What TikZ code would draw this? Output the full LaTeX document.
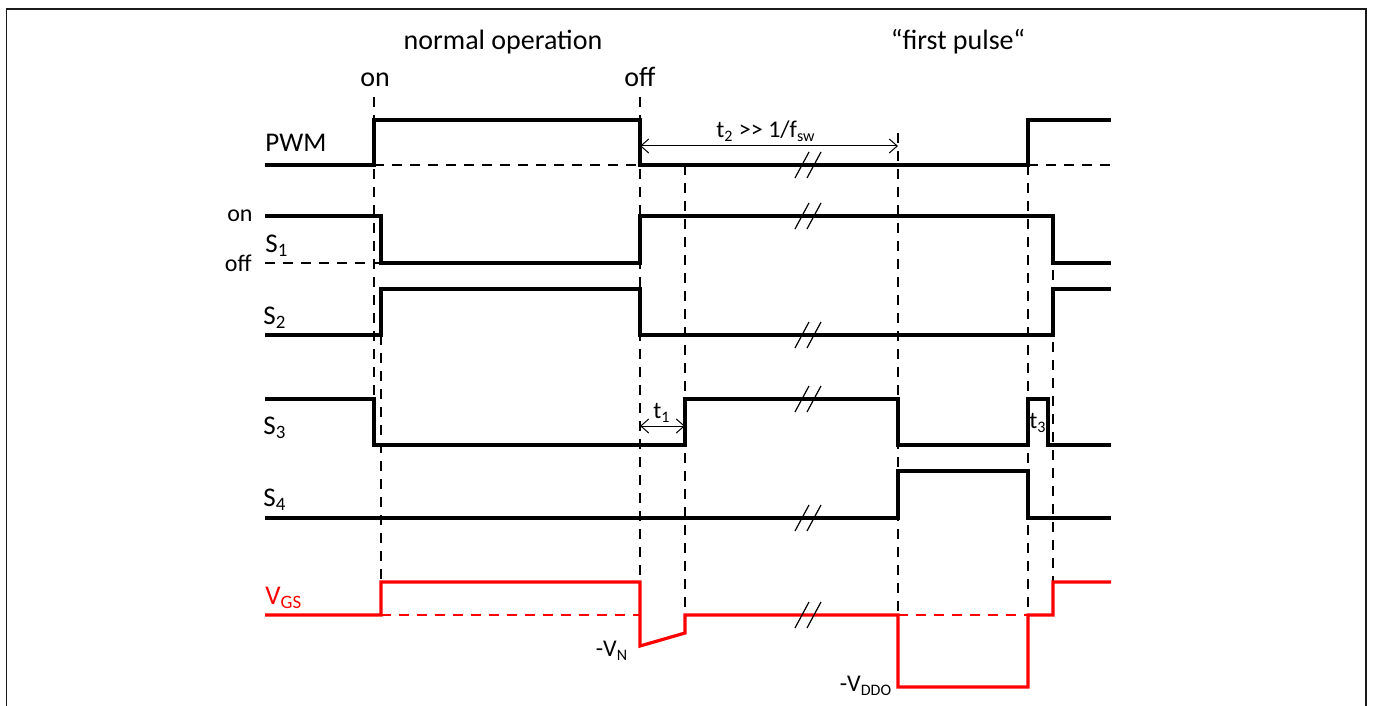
\documentclass[tikz,border=0pt]{standalone}
\usepackage{fontspec}
\setmainfont{Carlito}
\usepackage{tikz}
\usetikzlibrary{arrows.meta}
\definecolor{GateRed}{HTML}{FF0000}
\definecolor{FrameGray}{HTML}{1A1A1A}

\begin{document}
\begin{tikzpicture}[x=0.5pt, y=-0.5pt, >={Straight Barb[length=4pt,width=7pt]},
    sig/.style={line width=1.6pt, line join=miter},
    guide/.style={line width=0.75pt, dash pattern=on 5pt off 4pt},
    brkmark/.style={line width=0.6pt},
    dimline/.style={line width=0.5pt, <->},
    title/.style={font=\fontsize{14}{16}\selectfont, inner sep=0pt},
    lbl/.style={font=\fontsize{13.5}{15}\selectfont, inner sep=0pt},
    small/.style={font=\fontsize{12}{14}\selectfont, inner sep=0pt}]
    \useasboundingbox (0,0) rectangle (1373,706);

    % Frame (open at the bottom)
    \draw[FrameGray, line width=0.75pt] (6.5,706) -- (6.5,9) -- (1366,9) -- (1366,706);

    % Titles
    \node[title] (tnormal) at (503,42) {normal operation};
    \node[title] (tfirst) at (958,42) {“first pulse“};
    \node[title] (ton) at (375,80) {on};
    \node[title] (toff) at (640,77) {off};

    % Signal names
    \node[lbl, anchor=west] (lpwm) at (265,143) {PWM};
    \node[small, anchor=east] (lon) at (253,216) {on};
    \node[small, anchor=east] (loff) at (252,263) {off};
    \node[lbl, anchor=west] (ls1) at (265,246) {S\textsubscript{1}};
    \node[lbl, anchor=west] (ls2) at (263,318) {S\textsubscript{2}};
    \node[lbl, anchor=west] (ls3) at (263,428) {S\textsubscript{3}};
    \node[lbl, anchor=west] (ls4) at (263,500) {S\textsubscript{4}};
    \node[lbl, anchor=west, GateRed] (lvgs) at (265,598) {V\textsubscript{GS}};

    % Dashed guide lines
    \draw[guide] (374,97) -- (374,445);
    \draw[guide] (381,335) -- (381,582);
    \draw[guide] (640,97) -- (640,582);
    \draw[guide] (685,165) -- (685,615);
    \draw[guide] (898,133) -- (898,615);
    \draw[guide] (1028,165) -- (1028,615);
    \draw[guide] (1053,216) -- (1053,582);
    \draw[guide] (374,165) -- (640,165);
    \draw[guide] (1028,165) -- (1111,165);
    \draw[guide] (265,263) -- (381,263);
    \draw[guide, GateRed] (381,615) -- (640,615);
    \draw[guide, GateRed] (898,615) -- (1028,615);

    % PWM
    \draw[sig] (265,165) -- (374,165) -- (374,120) -- (640,120) -- (640,165)
        -- (1028,165) -- (1028,120) -- (1111,120);
    % S1
    \draw[sig] (265,216) -- (381,216) -- (381,263) -- (640,263) -- (640,216)
        -- (1053,216) -- (1053,263) -- (1111,263);
    % S2
    \draw[sig] (265,335) -- (381,335) -- (381,289) -- (640,289) -- (640,335)
        -- (1053,335) -- (1053,289) -- (1111,289);
    % S3
    \draw[sig] (265,399) -- (374,399) -- (374,445) -- (685,445) -- (685,399)
        -- (898,399) -- (898,445) -- (1028,445) -- (1028,399) -- (1048,399)
        -- (1048,445) -- (1111,445);
    % S4
    \draw[sig] (265,518) -- (898,518) -- (898,471) -- (1028,471) -- (1028,518)
        -- (1111,518);
    % VGS
    \draw[sig, GateRed] (265,615) -- (381,615) -- (381,582) -- (640,582) -- (640,646)
        -- (685,633) -- (685,615) -- (898,615) -- (898,687) -- (1028,687)
        -- (1028,615) -- (1053,615) -- (1053,582) -- (1111,582);

    % Break marks
    \foreach \y in {165,216,335,399,518,615} {
        \draw[brkmark] (795,\y+13) -- (809,\y-13);
        \draw[brkmark] (807,\y+13) -- (821,\y-13);
    }

    % Time spans
    \coordinate (t2a) at (640,146);
    \coordinate (t2b) at (898,146);
    \draw[dimline] (t2a) -- (t2b);
    \node[small] (lt2) at (766,131) {t\textsubscript{2} >{}> 1/f\textsubscript{sw}};
    \coordinate (t1a) at (640,426);
    \coordinate (t1b) at (685,426);
    \draw[dimline] (t1a) -- (t1b);
    \node[small] (lt1) at (662,413) {t\textsubscript{1}};
    \node[small] (lt3) at (1038,423) {t\textsubscript{3}};

    % Negative levels
    \node[small] (lvn) at (612,651) {-V\textsubscript{N}};
    \node[small] (lvddo) at (866,686) {-V\textsubscript{DDO}};

\end{tikzpicture}
\end{document}
